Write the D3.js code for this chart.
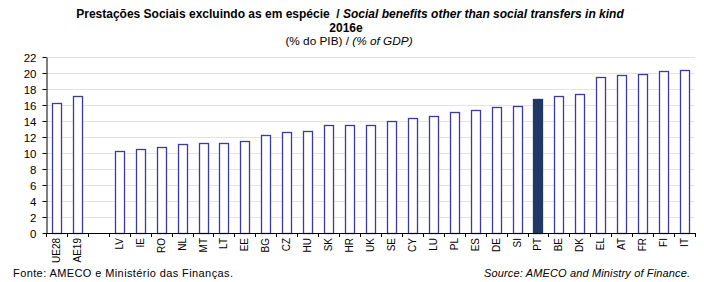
<!DOCTYPE html>
<html>
<head>
<meta charset="utf-8">
<script src="https://cdn.jsdelivr.net/npm/d3@7"></script>
<style>
  body { margin: 0; background: #fff; }
  text { font-family: "Liberation Sans", Arial, sans-serif; fill: #000; }
</style>
</head>
<body>
<svg id="chart" width="704" height="282"></svg>
<script>
// categories (blank one marks the gap between aggregates and countries)
var countries = ["UE28", "AE19", "", "LV", "IE", "RO", "NL", "MT", "LT", "EE", "BG", "CZ", "HU", "SK", "HR",
                 "UK", "SE", "CY", "LU", "PL", "ES", "DE", "SI", "PT", "BE", "DK", "EL", "AT", "FR", "FI", "IT"];
var values = [16.2, 17.1, null, 10.25, 10.45, 10.7, 11.1, 11.2, 11.2, 11.5, 12.25, 12.6, 12.75, 13.45, 13.5,
              13.55, 13.95, 14.4, 14.6, 15.1, 15.4, 15.7, 15.9, 16.8, 17.1, 17.4, 19.5, 19.8, 19.9, 20.2, 20.4];
var yTicks = [0, 2, 4, 6, 8, 10, 12, 14, 16, 18, 20, 22];
var highlight = "PT";

var svg = d3.select("#chart");
var margin = {left: 46, right: 695, top: 57, bottom: 233};

var x = d3.scaleBand().domain(d3.range(countries.length))
    .range([margin.left, margin.right]).paddingInner(0).paddingOuter(0);
var y = d3.scaleLinear().domain([0, 22]).range([margin.bottom, margin.top]);

// titles
svg.append("text").attr("x", 350).attr("y", 17.5).attr("text-anchor", "middle")
    .style("font-size", "12px").style("font-weight", "bold")
    .html('Prestações Sociais excluindo as em espécie&#160; / <tspan font-style="italic">Social benefits other than social transfers in kind</tspan>');
svg.append("text").attr("x", 346).attr("y", 31.5).attr("text-anchor", "middle")
    .style("font-size", "12px").style("font-weight", "bold").text("2016e");
svg.append("text").attr("x", 349).attr("y", 45).attr("text-anchor", "middle")
    .style("font-size", "11.8px")
    .html('(% do PIB) / <tspan font-style="italic">(% of GDP)</tspan>');

// grid
svg.append("g").selectAll("line").data(yTicks.slice(1)).enter().append("line")
    .attr("x1", margin.left).attr("x2", margin.right)
    .attr("y1", function(d) { return Math.round(y(d)) + 0.5; })
    .attr("y2", function(d) { return Math.round(y(d)) + 0.5; })
    .attr("stroke", "#e3e3e3").attr("stroke-width", 1);

// bars
var bw = 9;
svg.append("g").selectAll("rect")
    .data(values.map(function(v, i) { return {v: v, i: i, c: countries[i]}; })
        .filter(function(d) { return d.v != null; }))
    .enter().append("rect")
    .attr("x", function(d) { return Math.round(x(d.i) + x.bandwidth() / 2 - bw / 2) + 0.5; })
    .attr("y", function(d) { return Math.round(y(d.v)) + 0.5; })
    .attr("width", bw)
    .attr("height", function(d) { return Math.round(y(0)) - Math.round(y(d.v)); })
    .attr("fill", function(d) { return d.c == highlight ? "#1f3864" : "#fff"; })
    .attr("stroke", function(d) { return d.c == highlight ? "#1f3864" : "#3a3aa0"; })
    .attr("stroke-width", 1.3);

// y axis
var yAxis = svg.append("g").attr("transform", "translate(" + (margin.left + 0.5) + ",0)")
    .call(d3.axisLeft(y).tickValues(yTicks).tickSize(4).tickSizeOuter(0));
yAxis.select(".domain").attr("stroke", "#000");
yAxis.selectAll("line").attr("stroke", "#000");
yAxis.selectAll("text").style("font-size", "11.5px").attr("x", -10).attr("dy", "0.35em");

// x axis: ticks at category boundaries
var xg = svg.append("g");
xg.append("line").attr("x1", margin.left).attr("x2", margin.right)
    .attr("y1", Math.round(y(0)) + 0.5).attr("y2", Math.round(y(0)) + 0.5)
    .attr("stroke", "#000");
xg.selectAll(".tk").data(d3.range(countries.length + 1)).enter().append("line")
    .attr("x1", function(i) { return Math.round(margin.left + i * x.step()) + 0.5; })
    .attr("x2", function(i) { return Math.round(margin.left + i * x.step()) + 0.5; })
    .attr("y1", Math.round(y(0))).attr("y2", Math.round(y(0)) + 4)
    .attr("stroke", "#000");
xg.selectAll(".lbl").data(countries).enter().append("text")
    .attr("transform", function(d, i) {
        return "translate(" + (x(i) + x.bandwidth() / 2 + 3.5) + "," + (y(0) + 5) + ") rotate(-90)";
    })
    .attr("text-anchor", "end")
    .style("font-size", "10px")
    .text(function(d) { return d; });

// sources
svg.append("text").attr("x", 13).attr("y", 277).style("font-size", "11px")
    .attr("textLength", 220).attr("lengthAdjust", "spacing")
    .text("Fonte: AMECO e Ministério das Finanças.");
svg.append("text").attr("x", 484).attr("y", 277)
    .style("font-size", "11px").style("font-style", "italic")
    .attr("textLength", 206).attr("lengthAdjust", "spacing")
    .text("Source: AMECO and Ministry of Finance.");
</script>
</body>
</html>
